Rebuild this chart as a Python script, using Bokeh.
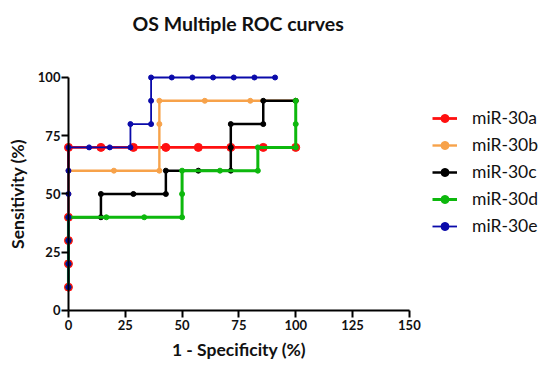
from bokeh.plotting import figure
from bokeh.models import Range1d, LinearAxis, FixedTicker, Legend, LegendItem, Label
from bokeh.embed import file_html
from bokeh.resources import INLINE

# data (percent)
a_x = [0, 0, 0, 0, 0, 14.29, 28.57, 42.86, 57.14, 71.43, 85.71, 100]
a_y = [10, 20, 30, 40, 70, 70, 70, 70, 70, 70, 70, 70]
b_x = [0, 0, 0, 0, 0, 0, 20, 40, 40, 40, 60, 80, 100]
b_y = [10, 20, 30, 40, 50, 60, 60, 60, 80, 90, 90, 90, 90]
c_x = [0, 0, 0, 0, 14.29, 14.29, 28.57, 42.86, 42.86, 57.14, 71.43, 71.43, 71.43, 85.71, 85.71, 100]
c_y = [10, 20, 30, 40, 40, 50, 50, 50, 60, 60, 60, 70, 80, 80, 90, 90]
d_x = [0, 0, 0, 0, 16.67, 33.33, 50, 50, 50, 66.67, 83.33, 83.33, 100, 100, 100]
d_y = [10, 20, 30, 40, 40, 40, 40, 50, 60, 60, 60, 70, 70, 80, 90]
e_x = [0, 0, 0, 0, 0, 0, 0, 9.09, 18.18, 27.27, 27.27, 36.36, 36.36, 36.36, 45.45, 54.55, 63.64, 72.73, 81.82, 90.91]
e_y = [10, 20, 30, 40, 50, 60, 70, 70, 70, 70, 80, 80, 90, 100, 100, 100, 100, 100, 100, 100]

x_ticks = [0, 25, 50, 75, 100, 125, 150]
y_ticks = [0, 25, 50, 75, 100]

series = [
    ("miR-30a", a_x, a_y, "#FF1010", 2.8, 8),
    ("miR-30b", b_x, b_y, "#F7A24A", 2.4, 5),
    ("miR-30c", c_x, c_y, "#000000", 2.5, 5),
    ("miR-30d", d_x, d_y, "#0DB80D", 3.0, 5),
    ("miR-30e", e_x, e_y, "#0A0AAA", 1.8, 5),
]

FONT = "Lato"

p = figure(width=550, height=371, output_backend="svg", toolbar_location=None,
           x_range=Range1d(-29.9, 212.1), y_range=Range1d(-26.2, 133.05),
           x_axis_type=None, y_axis_type=None,
           min_border_left=0, min_border_top=0, min_border_right=0, min_border_bottom=0)
p.grid.visible = False
p.outline_line_color = None

p.add_layout(Label(text="OS Multiple ROC curves", x=132, y=348, x_units="screen", y_units="screen",
                   text_font=FONT, text_font_size="19.5px", text_font_style="bold",
                   text_color="#111111", text_baseline="alphabetic", text_align="left"))

xa = LinearAxis(fixed_location=0, ticker=FixedTicker(ticks=x_ticks), bounds=(0, 150),
                axis_label="1 - Specificity (%)")
ya = LinearAxis(fixed_location=0, ticker=FixedTicker(ticks=y_ticks), bounds=(0, 100),
                axis_label="Sensitivity (%)")
for ax in (xa, ya):
    ax.axis_line_width = 2
    ax.axis_line_color = "black"
    ax.major_tick_line_width = 2
    ax.major_tick_line_color = "black"
    ax.major_tick_out = 7
    ax.major_tick_in = 0
    ax.minor_tick_line_color = None
    ax.major_label_text_font = FONT
    ax.major_label_text_font_style = "bold"
    ax.major_label_text_font_size = "13px"
    ax.major_label_text_color = "#111111"
    ax.axis_label_text_font = FONT
    ax.axis_label_text_font_style = "bold"
    ax.axis_label_text_font_size = "17.5px"
    ax.axis_label_text_color = "#111111"
xa.major_label_standoff = 3
ya.major_label_standoff = 1
xa.axis_label_standoff = 5
ya.axis_label_standoff = 7
p.add_layout(xa, "below")
p.add_layout(ya, "left")

items = []
for name, xs, ys, col, lw, ms in series:
    r1 = p.line(xs, ys, line_color=col, line_width=lw)
    r2 = p.scatter(xs, ys, size=ms, fill_color=col, line_color=col)
    items.append(LegendItem(label=name, renderers=[r1, r2]))

legend = Legend(items=items, location=(432, 135), orientation="vertical",
                label_text_font=FONT, label_text_font_size="17.5px", label_text_color="#111111",
                glyph_width=25, glyph_height=20, label_height=20, spacing=6,
                label_standoff=15, padding=0, margin=0,
                border_line_color=None, background_fill_alpha=0)
p.add_layout(legend, "center")

open("out.html", "w").write(file_html(p, INLINE))
